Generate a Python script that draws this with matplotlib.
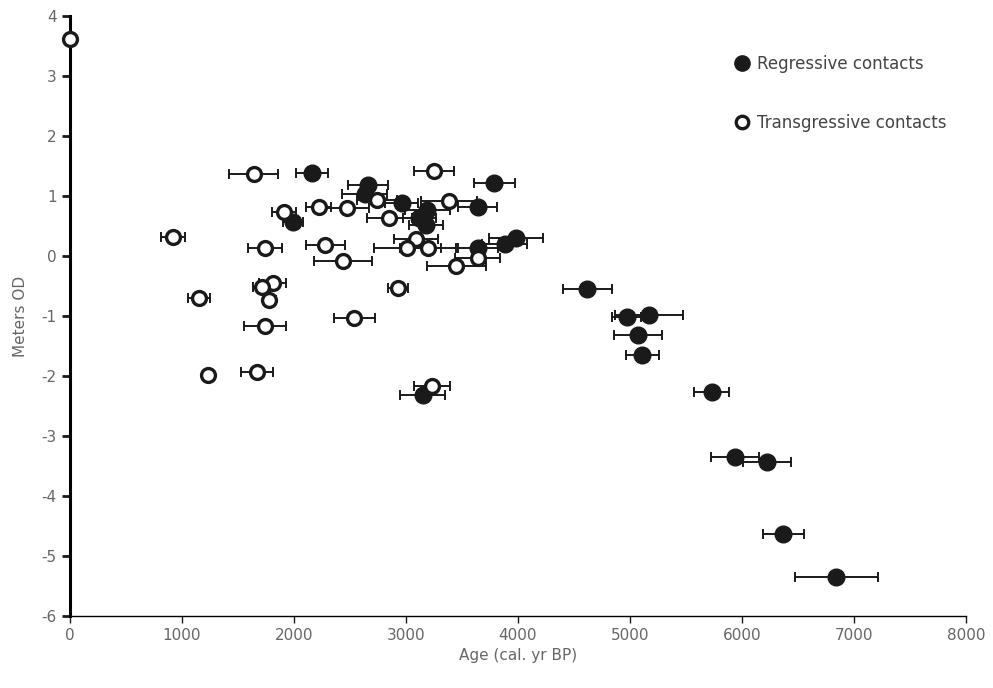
import numpy as np
import matplotlib
matplotlib.use("Agg")
import matplotlib.pyplot as plt
from matplotlib.lines import Line2D

# --- data ---
reg_age = [2160, 1990, 2660, 2630, 2960, 3790, 3640, 3120, 3190, 3180, 3640, 3880, 3980, 3150,
           4620, 4970, 5170, 5070, 5110, 5730, 5940, 6220, 6370, 6840]
reg_m = [1.38, 0.56, 1.18, 1.03, 0.88, 1.21, 0.82, 0.63, 0.77, 0.52, 0.13, 0.2, 0.3, -2.32,
         -0.55, -1.01, -0.98, -1.32, -1.65, -2.27, -3.35, -3.43, -4.63, -5.35]
reg_err = [140, 90, 180, 200, 150, 180, 175, 150, 200, 150, 180, 200, 240, 200,
           215, 130, 300, 215, 150, 155, 215, 215, 180, 370]

trans_age = [0, 920, 1150, 1230, 1640, 1910, 1740, 1810, 1710, 1780, 1740, 1670, 2220, 2470,
             2740, 2850, 3250, 3380, 2280, 2440, 3090, 3010, 3200, 3450, 3640, 2930, 2540, 3230]
trans_m = [3.62, 0.32, -0.7, -1.98, 1.37, 0.73, 0.13, -0.45, -0.52, -0.73, -1.17, -1.93, 0.82, 0.8,
           0.94, 0.64, 1.42, 0.92, 0.19, -0.08, 0.28, 0.13, 0.13, -0.17, -0.04, -0.53, -1.03, -2.16]
trans_err = [0, 110, 100, 0, 220, 110, 150, 120, 80, 60, 190, 140, 110, 200,
             180, 200, 180, 250, 175, 260, 200, 300, 250, 260, 200, 90, 180, 160]

xticks = np.arange(0, 8001, 1000)
yticks = np.arange(-6, 5, 1)

plt.rcParams['font.family'] = ['Liberation Sans Narrow', 'DejaVu Sans']
plt.rcParams['axes.unicode_minus'] = False

fig = plt.figure(figsize=(9.93, 6.88), dpi=100)
ax = fig.add_axes([0.0705, 0.1047, 0.9023, 0.872])

ebkw = dict(fmt='none', ecolor='#1a1a1a', elinewidth=1.4, capsize=3.5, capthick=1.4, zorder=2)
ax.errorbar(trans_age, trans_m, xerr=trans_err, **ebkw)
ax.errorbar(reg_age, reg_m, xerr=reg_err, **ebkw)

ax.plot(reg_age, reg_m, 'o', ms=12, color='#1a1a1a', zorder=3, clip_on=False)
ax.plot(trans_age, trans_m, 'o', ms=10, mfc='white', mec='#1a1a1a', mew=2.4, zorder=4, clip_on=False)

ax.set_xlim(0, 8000)
ax.set_ylim(-6, 4)
ax.set_xticks(xticks)
ax.set_yticks(yticks)

for s in ['top', 'right']:
    ax.spines[s].set_visible(False)
ax.spines['left'].set_linewidth(2.2)
ax.spines['bottom'].set_linewidth(1.0)
ax.tick_params(axis='y', length=6, width=2, colors='#1a1a1a', labelcolor='#666666', labelsize=11)
ax.tick_params(axis='x', length=5, width=1, colors='#1a1a1a', labelcolor='#666666', labelsize=11)

ax.set_xlabel('Age (cal. yr BP)', fontsize=11, color='#666666', labelpad=4)
ax.set_ylabel('Meters OD', fontsize=11, color='#666666', labelpad=10)

handles = [Line2D([], [], ls='none', marker='o', ms=11, color='#1a1a1a'),
           Line2D([], [], ls='none', marker='o', ms=9, mfc='white', mec='#1a1a1a', mew=2.4)]
ax.legend(handles, ['Regressive contacts', 'Transgressive contacts'], loc='upper left',
          bbox_to_anchor=(0.726, 0.96), frameon=False, labelspacing=2.45, handlelength=0.8,
          handletextpad=0.5, fontsize=12, labelcolor='#444444')

plt.savefig('out.png', dpi=100)
